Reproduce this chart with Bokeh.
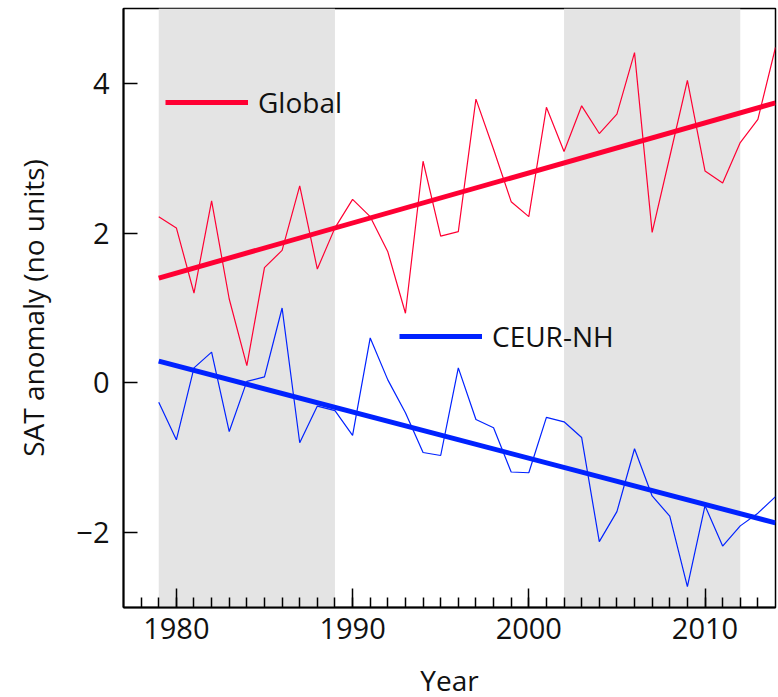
from bokeh.plotting import figure
from bokeh.models import (Range1d, FixedTicker, BoxAnnotation, Legend, LegendItem)
from bokeh.embed import file_html
from bokeh.resources import INLINE

# ---- data ----
years = list(range(1979, 2015))
global_sat = [2.22, 2.07, 1.20, 2.43, 1.12, 0.23, 1.54, 1.77, 2.63, 1.52,
              2.07, 2.45, 2.22, 1.75, 0.93, 2.96, 1.96, 2.02, 3.79, 3.12,
              2.42, 2.22, 3.68, 3.09, 3.70, 3.33, 3.59, 4.41, 2.01, 3.02,
              4.04, 2.83, 2.67, 3.21, 3.52, 4.48]
ceur_nh = [-0.26, -0.76, 0.20, 0.41, -0.65, 0.02, 0.08, 1.00, -0.80, -0.31,
           -0.37, -0.70, 0.60, 0.04, -0.40, -0.93, -0.97, 0.20, -0.49, -0.60,
           -1.19, -1.20, -0.46, -0.52, -0.73, -2.12, -1.72, -0.88, -1.51, -1.78,
           -2.72, -1.64, -2.18, -1.91, -1.74, -1.52]
trend_years = [1979, 2014]
global_trend = [1.40, 3.74]
ceur_trend = [0.29, -1.87]
band_start = [1979, 2002]
band_end = [1989, 2012]
x_major_ticks = [1980, 1990, 2000, 2010]
x_minor_ticks = list(range(1978, 2014))
y_ticks = [-2, 0, 2, 4]
y_tick_labels = ["\u22122", "0", "2", "4"]

RED = "#ff0033"
BLUE = "#0022ff"
FONT = "Open Sans"

p = figure(width=778, height=697, output_backend="svg", toolbar_location=None,
           x_range=Range1d(1977, 2014), y_range=Range1d(-3, 5),
           min_border_left=123, min_border_right=3, min_border_top=8,
           min_border_bottom=90)
p.frame_width = 652
p.frame_height = 599

p.grid.visible = False
p.outline_line_color = "black"
p.outline_line_width = 1.5
p.background_fill_color = "white"

for s, e in zip(band_start, band_end):
    p.add_layout(BoxAnnotation(left=s, right=e, fill_color="#e4e4e4", fill_alpha=1.0,
                               line_alpha=0, level="underlay"))

g_thin = p.line(years, global_sat, line_color=RED, line_width=1.2)
c_thin = p.line(years, ceur_nh, line_color=BLUE, line_width=1.2)
g_tr = p.line(trend_years, global_trend, line_color=RED, line_width=5)
c_tr = p.line(trend_years, ceur_trend, line_color=BLUE, line_width=5)

def make_legend(label, rend, loc):
    lg = Legend(items=[LegendItem(label=label, renderers=[rend])], location=loc,
                orientation="vertical", padding=0, margin=0, spacing=0,
                glyph_width=83, glyph_height=30, label_height=30,
                label_standoff=10, label_text_font=FONT, label_text_font_size="28px",
                label_text_color="#111111", border_line_alpha=0,
                background_fill_alpha=0, click_policy="none")
    p.add_layout(lg, "center")

make_legend("Global", g_tr, (42, 486))
make_legend("CEUR-NH", c_tr, (276, 252))

xa = p.xaxis[0]
xa.ticker = FixedTicker(ticks=x_major_ticks, minor_ticks=x_minor_ticks)
xa.major_tick_in = 19
xa.major_tick_out = 0
xa.minor_tick_in = 10
xa.minor_tick_out = 0
xa.axis_label = "Year"

ya = p.yaxis[0]
ya.ticker = FixedTicker(ticks=y_ticks, minor_ticks=[])
ya.major_label_overrides = {t: l for t, l in zip(y_ticks, y_tick_labels)}
ya.major_tick_in = 14
ya.major_tick_out = 0
ya.minor_tick_in = 0
ya.minor_tick_out = 0
ya.axis_label = "SAT anomaly (no units)"

for ax in (xa, ya):
    ax.axis_line_width = 2
    ax.axis_line_color = "black"
    ax.major_tick_line_width = 1.5
    ax.minor_tick_line_width = 1.5
    ax.major_tick_line_color = "black"
    ax.minor_tick_line_color = "black"
    ax.major_label_text_font = FONT
    ax.major_label_text_font_size = "29px"
    ax.major_label_text_color = "#111111"
    ax.axis_label_text_font = FONT
    ax.axis_label_text_font_size = "28px"
    ax.axis_label_text_font_style = "normal"
    ax.axis_label_text_color = "#111111"

xa.major_label_standoff = 10
xa.axis_label_standoff = 19
ya.major_label_standoff = 14
ya.axis_label_standoff = 21

open("out.html", "w").write(file_html(p, INLINE))
